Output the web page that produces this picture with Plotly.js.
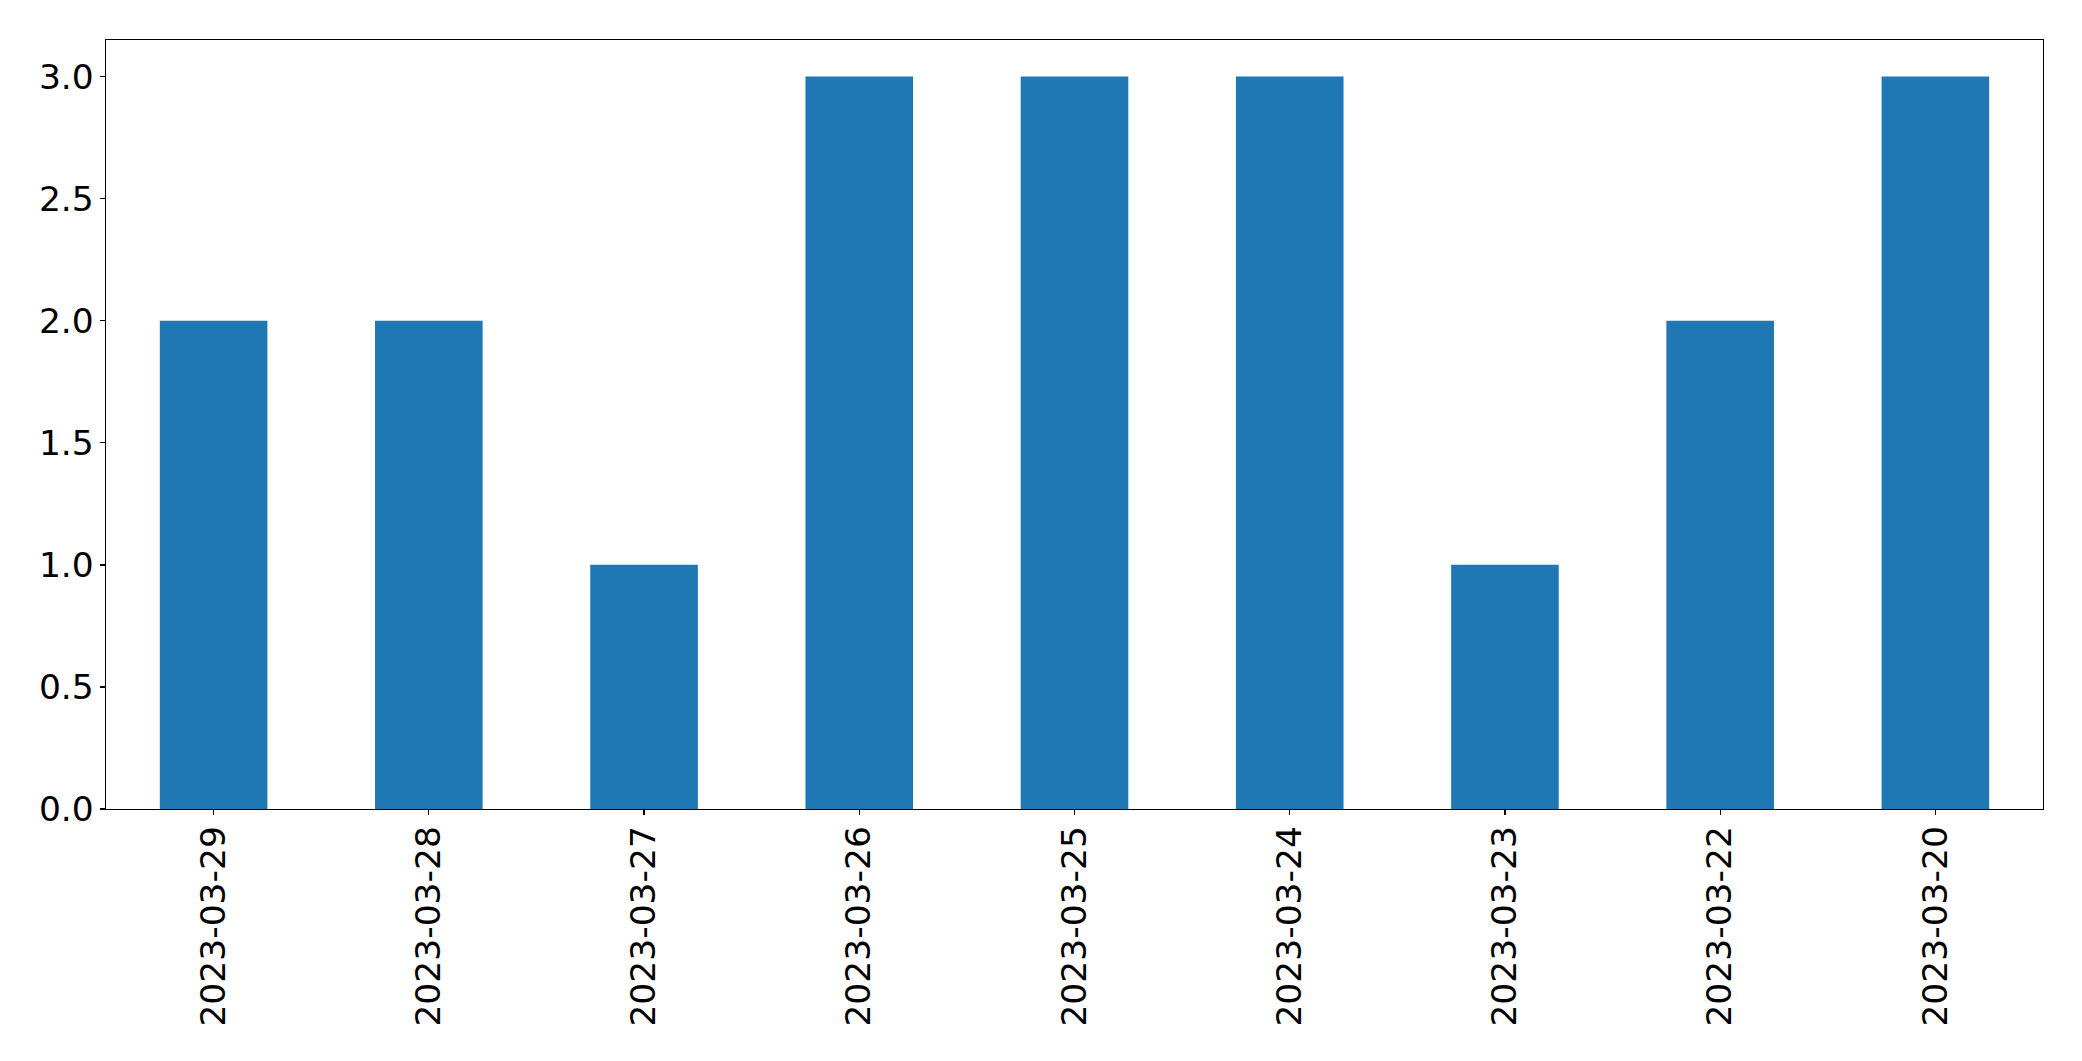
<!DOCTYPE html>
<html>
<head>
<meta charset="utf-8">
<script src="https://cdn.plot.ly/plotly-3.0.1.min.js"></script>
<style>html,body{margin:0;padding:0;background:#fff;}#chart{width:2082px;height:1061px;}</style>
</head>
<body>
<div id="chart"></div>
<script>
const categories = ["2023-03-29","2023-03-28","2023-03-27","2023-03-26","2023-03-25","2023-03-24","2023-03-23","2023-03-22","2023-03-20"];
const counts = [2,2,1,3,3,3,1,2,3];
const yTickVals = [0,0.5,1,1.5,2,2.5,3];
const yTickText = ["0.0","0.5","1.0","1.5","2.0","2.5","3.0"];

const font = {family: "DejaVu Sans", size: 34.5, color: "#000"};
Plotly.newPlot("chart", [{
  type: "bar",
  x: categories,
  y: counts,
  width: 0.5,
  marker: {color: "#1f77b4", line: {width: 0}},
  hoverinfo: "x+y"
}], {
  width: 2082, height: 1061,
  margin: {l: 105.5, r: 39, t: 39.5, b: 251.7, pad: 0},
  paper_bgcolor: "#fff", plot_bgcolor: "#fff",
  showlegend: false,
  font: font,
  xaxis: {
    type: "category",
    range: [-0.5, 8.5],
    tickangle: -90,
    ticks: "outside", ticklen: 5, tickwidth: 1.3, tickcolor: "#000",
    showline: true, mirror: true, linecolor: "#000", linewidth: 1.3,
    showgrid: false, zeroline: false,
    tickfont: font,
    ticklabelstandoff: -3
  },
  yaxis: {
    range: [0, 3.15],
    tickvals: yTickVals, ticktext: yTickText,
    ticks: "outside", ticklen: 5, tickwidth: 1.3, tickcolor: "#000",
    showline: true, mirror: true, linecolor: "#000", linewidth: 1.3,
    showgrid: false, zeroline: false,
    tickfont: font,
    ticklabelstandoff: -1
  }
}, {displayModeBar: false, staticPlot: true});
</script>
</body>
</html>
